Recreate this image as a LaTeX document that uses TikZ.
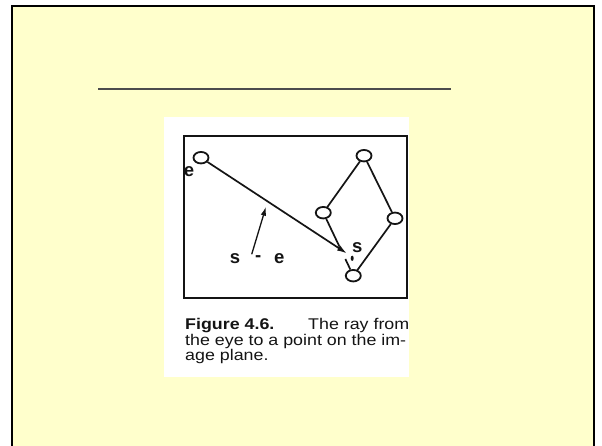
\documentclass[tikz,border=0pt]{standalone}
\usepackage{fontspec}
\setmainfont{Liberation Sans}
\usetikzlibrary{shapes.geometric,arrows.meta,calc}
\definecolor{slide}{HTML}{FFFFCC}
\definecolor{ink}{HTML}{141414}
\begin{document}
\begin{tikzpicture}[x=1pt,y=-1pt,
  vtx/.style={ellipse,draw=ink,line width=1.8pt,fill=white,minimum width=15pt,minimum height=11.5pt,inner sep=0pt},
  edge/.style={draw=ink,line width=1.7pt},
  lbl/.style={font=\fontsize{18.5}{18.5}\selectfont\bfseries,text=ink,inner sep=0pt},
  captext/.style={anchor=base west,xscale=1.15,inner sep=0pt,font=\fontsize{15.5}{15.5}\selectfont,text=ink}]
\useasboundingbox (0,0) rectangle (602,446);
\fill[white] (0,0) rectangle (602,446);
\fill[slide] (12,6) rectangle (594,446);
\draw[black,line width=2.5pt] (12,447) -- (12,6) -- (594,6) -- (594,447);
\draw[gray!60!black,line width=2pt] (98,89) -- (451,89);
% figure image
\fill[white] (164,117) rectangle (409,377);
\draw[ink,line width=1.9pt] (184,136) rectangle (407,298);
% vertices
\node[vtx] (eye) at (201,157.7) {};
\node[vtx] (top) at (364,155.7) {};
\node[vtx] (lm) at (323.3,212.7) {};
\node[vtx] (rt) at (395,218.3) {};
\node[vtx] (bot) at (353.3,275.7) {};
\draw[edge] (top) -- (lm);
\draw[edge] (top) -- (rt);
\draw[edge] (rt) -- (bot);
\draw[edge] (lm) -- ($(lm)!0.54!(bot)$);
\draw[edge] ($(lm)!0.735!(bot)$) -- (bot);
% ray
\coordinate (stip) at (347,253.5);
\draw[edge,-{Latex[length=10pt,width=6pt]}] (eye) -- (stip);
\fill[ink] (352.2,258.3) ellipse (1.5pt and 2.6pt);
% s - e arrow
\coordinate (sebase) at (251.7,254.3);
\coordinate (setip) at (266,206.7);
\draw[ink,line width=1.3pt,-{Latex[length=9pt,width=5.5pt]}] (sebase) -- (setip);
% labels
\node[lbl] (le) at (189,171.7) {e};
\node[lbl] (ls) at (357.3,247.7) {s};
\node[lbl] (se1) at (235,259) {s};
\node[lbl] (se2) at (258.3,258.3) {-};
\node[lbl] (se3) at (279.3,258.3) {e};
% caption
\node[captext] (c1) at (185,329.5) {\bfseries Figure 4.6.};
\node[captext] (c2) at (308,329.5) {The ray from};
\node[captext] (c3) at (185,345) {the eye to a point on the im-};
\node[captext] (c4) at (185,360.5) {age plane.};
\end{tikzpicture}
\end{document}
